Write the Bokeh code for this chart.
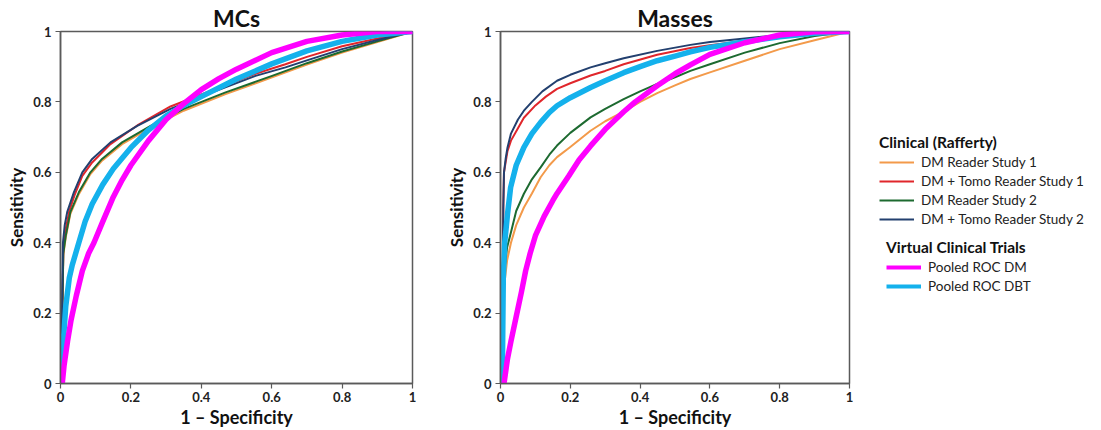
from bokeh.plotting import figure
from bokeh.layouts import row
from bokeh.models import Legend, LegendItem, FixedTicker, Title
from bokeh.embed import file_html
from bokeh.resources import INLINE

# ---------------- data ----------------
series_labels = ["DM Reader Study 1", "DM + Tomo Reader Study 1", "DM Reader Study 2",
                 "DM + Tomo Reader Study 2", "Pooled ROC DM", "Pooled ROC DBT"]
legend_titles = ["Clinical (Rafferty)", "Virtual Clinical Trials"]
panel_titles = ["MCs", "Masses"]
tick_values = [0, 0.2, 0.4, 0.6, 0.8, 1]
tick_labels = ["0", "0.2", "0.4", "0.6", "0.8", "1"]

# MCs panel (1 - specificity, sensitivity)
mcs_dm1_x = [0.003, 0.005, 0.008, 0.015, 0.028, 0.052, 0.085, 0.118, 0.175, 0.256, 0.35, 0.469, 0.601, 0.7, 0.8, 0.9, 1.0]
mcs_dm1_y = [0.0, 0.2, 0.365, 0.415, 0.482, 0.538, 0.595, 0.633, 0.68, 0.727, 0.775, 0.822, 0.87, 0.906, 0.94, 0.97, 1.0]
mcs_tomo1_x = [0.003, 0.005, 0.008, 0.015, 0.025, 0.04, 0.062, 0.09, 0.142, 0.218, 0.3125, 0.431, 0.554, 0.639, 0.7, 0.8, 0.9, 1.0]
mcs_tomo1_y = [0.0, 0.2, 0.38, 0.44, 0.49, 0.535, 0.59, 0.628, 0.68, 0.733, 0.787, 0.833, 0.88, 0.907, 0.928, 0.958, 0.98, 1.0]
mcs_dm2_x = [0.003, 0.005, 0.008, 0.015, 0.028, 0.052, 0.085, 0.118, 0.175, 0.256, 0.35, 0.469, 0.601, 0.7, 0.8, 0.9, 1.0]
mcs_dm2_y = [0.0, 0.2, 0.37, 0.42, 0.487, 0.543, 0.6, 0.638, 0.685, 0.732, 0.78, 0.827, 0.874, 0.91, 0.943, 0.972, 1.0]
mcs_tomo2_x = [0.003, 0.005, 0.007, 0.012, 0.019, 0.038, 0.062, 0.09, 0.142, 0.218, 0.3125, 0.431, 0.554, 0.639, 0.7, 0.8, 0.9, 1.0]
mcs_tomo2_y = [0.0, 0.25, 0.4, 0.45, 0.487, 0.543, 0.6, 0.638, 0.685, 0.732, 0.78, 0.827, 0.874, 0.898, 0.918, 0.95, 0.976, 1.0]
mcs_vdm_x = [0.005, 0.01, 0.02, 0.03, 0.045, 0.062, 0.08, 0.095, 0.12, 0.15, 0.175, 0.2, 0.25, 0.3, 0.35, 0.4, 0.45, 0.5, 0.6, 0.7, 0.8, 0.9, 1.0]
mcs_vdm_y = [0.0, 0.05, 0.12, 0.18, 0.25, 0.32, 0.37, 0.4, 0.46, 0.53, 0.578, 0.62, 0.69, 0.75, 0.795, 0.835, 0.866, 0.893, 0.94, 0.972, 0.99, 1.0, 1.0]
mcs_vdbt_x = [0.003, 0.008, 0.015, 0.025, 0.033, 0.052, 0.07, 0.09, 0.12, 0.15, 0.2, 0.25, 0.3, 0.35, 0.4, 0.5, 0.6, 0.7, 0.8, 0.9, 1.0]
mcs_vdbt_y = [0.0, 0.12, 0.22, 0.3, 0.335, 0.4, 0.46, 0.51, 0.565, 0.61, 0.67, 0.72, 0.76, 0.79, 0.815, 0.865, 0.908, 0.945, 0.972, 0.99, 1.0]

# Masses panel
mas_dm1_x = [0.005, 0.008, 0.012, 0.019, 0.03, 0.045, 0.067, 0.09, 0.115, 0.14, 0.162, 0.2, 0.258, 0.3, 0.353, 0.4, 0.449, 0.5, 0.544, 0.6, 0.7, 0.8, 0.9, 1.0]
mas_dm1_y = [0.0, 0.22, 0.29, 0.35, 0.40, 0.45, 0.50, 0.54, 0.586, 0.62, 0.643, 0.672, 0.718, 0.745, 0.772, 0.80, 0.825, 0.847, 0.865, 0.884, 0.917, 0.95, 0.975, 1.0]
mas_tomo1_x = [0.005, 0.008, 0.01, 0.02, 0.03, 0.05, 0.067, 0.1, 0.13, 0.162, 0.2, 0.258, 0.3, 0.353, 0.449, 0.544, 0.6, 0.7, 0.8, 0.9, 1.0]
mas_tomo1_y = [0.0, 0.5, 0.6, 0.66, 0.69, 0.725, 0.755, 0.79, 0.815, 0.837, 0.853, 0.875, 0.888, 0.907, 0.934, 0.953, 0.961, 0.974, 0.986, 0.995, 1.0]
mas_dm2_x = [0.005, 0.008, 0.012, 0.019, 0.03, 0.045, 0.067, 0.09, 0.115, 0.14, 0.162, 0.2, 0.258, 0.3, 0.353, 0.4, 0.449, 0.5, 0.544, 0.6, 0.7, 0.8, 0.9, 1.0]
mas_dm2_y = [0.0, 0.25, 0.33, 0.387, 0.43, 0.49, 0.539, 0.58, 0.614, 0.65, 0.676, 0.712, 0.756, 0.78, 0.808, 0.83, 0.851, 0.87, 0.888, 0.907, 0.94, 0.967, 0.987, 1.0]
mas_tomo2_x = [0.005, 0.008, 0.01, 0.015, 0.02, 0.03, 0.05, 0.067, 0.09, 0.12, 0.162, 0.2, 0.258, 0.3, 0.353, 0.449, 0.544, 0.6, 0.7, 0.8, 0.9, 1.0]
mas_tomo2_y = [0.0, 0.5, 0.6, 0.64, 0.67, 0.71, 0.75, 0.775, 0.8, 0.83, 0.86, 0.877, 0.898, 0.91, 0.924, 0.945, 0.962, 0.97, 0.98, 0.99, 0.996, 1.0]
mas_vdm_x = [0.01, 0.02, 0.03, 0.045, 0.06, 0.072, 0.085, 0.1, 0.125, 0.15, 0.162, 0.196, 0.225, 0.258, 0.3, 0.353, 0.386, 0.449, 0.5, 0.544, 0.6, 0.7, 0.8, 0.9, 1.0]
mas_vdm_y = [0.0, 0.07, 0.12, 0.19, 0.26, 0.32, 0.37, 0.42, 0.475, 0.52, 0.54, 0.59, 0.635, 0.675, 0.722, 0.772, 0.8, 0.846, 0.88, 0.905, 0.935, 0.968, 0.99, 0.999, 1.0]
mas_vdbt_x = [0.005, 0.008, 0.012, 0.02, 0.029, 0.045, 0.067, 0.09, 0.115, 0.14, 0.162, 0.2, 0.258, 0.3, 0.353, 0.4, 0.449, 0.5, 0.544, 0.6, 0.7, 0.8, 0.9, 1.0]
mas_vdbt_y = [0.0, 0.30, 0.40, 0.48, 0.557, 0.62, 0.671, 0.71, 0.742, 0.77, 0.789, 0.812, 0.841, 0.86, 0.883, 0.9, 0.917, 0.93, 0.942, 0.955, 0.971, 0.985, 0.995, 1.0]

mcs_series = [(mcs_dm1_x, mcs_dm1_y), (mcs_tomo1_x, mcs_tomo1_y), (mcs_dm2_x, mcs_dm2_y),
              (mcs_tomo2_x, mcs_tomo2_y), (mcs_vdbt_x, mcs_vdbt_y), (mcs_vdm_x, mcs_vdm_y)]
mas_series = [(mas_dm1_x, mas_dm1_y), (mas_tomo1_x, mas_tomo1_y), (mas_dm2_x, mas_dm2_y),
              (mas_tomo2_x, mas_tomo2_y), (mas_vdbt_x, mas_vdbt_y), (mas_vdm_x, mas_vdm_y)]
# drawing order index -> label index
order_labels = [0, 1, 2, 3, 5, 4]

# ---------------- style ----------------
colors = ["#F39A4A", "#E0262B", "#1D6A30", "#23406F", "#FF00FF", "#14B1EC"]
widths = [2, 2, 2, 2, 5.5, 5.5]
FONT = "Lato"
FRAME = "#5a5a5a"
H = 430


def make_fig(width, border_left, border_right, title, title_offset, series):
    p = figure(width=width, height=H, x_range=(0, 1), y_range=(0, 1),
               output_backend="svg", toolbar_location=None,
               min_border_left=border_left, min_border_right=border_right,
               min_border_top=31, min_border_bottom=46)
    p.title = Title(text=title, align="center", offset=title_offset, standoff=0,
                    text_font=FONT, text_font_style="bold", text_font_size="23px",
                    text_color="#111111")
    p.grid.visible = False
    p.outline_line_color = FRAME
    p.outline_line_width = 1.5
    for ax in (p.xaxis[0], p.yaxis[0]):
        ax.ticker = FixedTicker(ticks=tick_values)
        ax.major_label_overrides = dict(zip(tick_values, tick_labels))
        ax.minor_tick_line_color = None
        ax.major_tick_in = 0
        ax.major_tick_out = 5
        ax.axis_line_color = FRAME
        ax.axis_line_width = 1.5
        ax.major_tick_line_color = FRAME
        ax.major_tick_line_width = 1.2
        ax.major_label_text_font = FONT
        ax.major_label_text_font_style = "bold"
        ax.major_label_text_font_size = "13px"
        ax.major_label_text_color = "#222222"
        ax.axis_label_text_font = FONT
        ax.axis_label_text_font_style = "bold"
        ax.axis_label_text_color = "#111111"
    p.xaxis.axis_label = "1 \u2013 Specificity"
    p.yaxis.axis_label = "Sensitivity"
    p.xaxis.axis_label_text_font_size = "18px"
    p.yaxis.axis_label_text_font_size = "17px"
    p.xaxis.major_label_standoff = 3
    p.xaxis.axis_label_standoff = 1
    p.yaxis.major_label_standoff = 4
    p.yaxis.axis_label_standoff = 3

    for k, (xs, ys) in enumerate(series):
        li = order_labels[k]
        p.line(xs, ys, line_color=colors[li], line_width=widths[li],
               line_join="round", line_cap="round")
    return p


p1 = make_fig(440, 60, 28, panel_titles[0], -7, mcs_series)
p2 = make_fig(421, 60, 12, panel_titles[1], 18, mas_series)

# legend panel: hidden copies of the Masses series supply the legend glyphs
p3 = figure(width=240, height=H, x_range=(0, 1), y_range=(0, 1),
            x_axis_type=None, y_axis_type=None, output_backend="svg",
            toolbar_location=None, min_border=0)
p3.grid.visible = False
p3.outline_line_color = None
rends = {}
for k, (xs, ys) in enumerate(mas_series):
    li = order_labels[k]
    rends[li] = p3.line(xs, ys, line_color=colors[li], line_width=min(widths[li], 4),
                        visible=False)


def make_legend(title, idxs, loc):
    leg = Legend(items=[LegendItem(label=series_labels[i], renderers=[rends[i]]) for i in idxs],
                 title=title, location=loc)
    leg.title_text_font = FONT
    leg.title_text_font_style = "bold"
    leg.title_text_font_size = "15.5px"
    leg.title_text_color = "#111111"
    leg.title_standoff = 3
    leg.label_text_font = FONT
    leg.label_text_font_size = "13.5px"
    leg.label_text_color = "#222222"
    leg.glyph_width = 35
    leg.glyph_height = 14
    leg.label_height = 16
    leg.label_standoff = 7
    leg.spacing = 3
    leg.padding = 0
    leg.margin = 0
    leg.border_line_alpha = 0
    leg.background_fill_alpha = 0
    leg.inactive_fill_alpha = 0
    leg.click_policy = "none"
    return leg


p3.add_layout(make_legend(legend_titles[0], [0, 1, 2, 3], (18, 156)), "center")
p3.add_layout(make_legend(legend_titles[1], [4, 5], (25, 89)), "center")

layout = row(p1, p2, p3)
open("out.html", "w").write(file_html(layout, INLINE))
